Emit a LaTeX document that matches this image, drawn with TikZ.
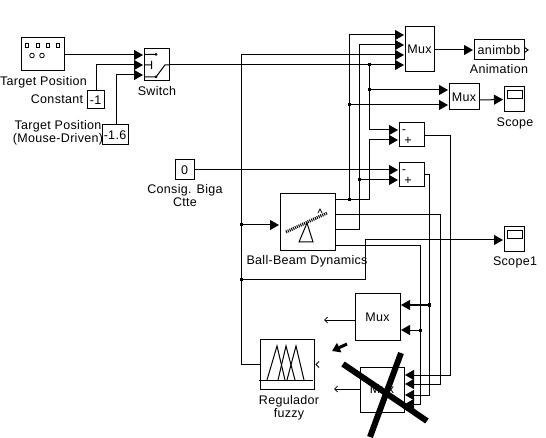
\documentclass[tikz,border=0pt]{standalone}
\usepackage{fontspec}
\setmainfont[LetterSpace=2.5]{Liberation Sans}
\usetikzlibrary{arrows.meta}
\tikzset{
	block/.style={draw,line width=1pt,inner sep=0pt,outer sep=0pt,fill=white,font=\fontsize{12.5}{13}\selectfont},
	lbl/.style={inner sep=0pt,font=\fontsize{12.5}{13}\selectfont,align=center},
	wire/.style={line width=1pt,-{Triangle[length=9pt,width=10pt]},shorten >=1pt},
	plainwire/.style={line width=1pt},
	thinout/.style={line width=0.8pt,-{Straight Barb[length=3pt,width=6pt]}},
	dot/.style={fill=black,inner sep=0pt,minimum size=3pt,rectangle},
	cross/.style={line width=6pt,color=black}
}
\begin{document}
\begin{tikzpicture}[x=1pt,y=-1pt]
	\useasboundingbox (0,0) rectangle (546,438);
	% source blocks
	\node [block,minimum width=43pt,minimum height=33pt] (target) at (42.5,54.5) {};
	\node [block,minimum width=17pt,minimum height=18pt] (const) at (95.5,100) {-1};
	\node [block,minimum width=26pt,minimum height=20pt] (mouse) at (115,135) {-1.6};
	\node [block,minimum width=19pt,minimum height=20pt] (biga) at (184.5,170) {0};
	\node [block,minimum width=25pt,minimum height=32pt] (switch) at (156.5,65) {};
	% mux and scopes
	\node [block,minimum width=29pt,minimum height=45pt] (muxa) at (419.5,49.5) {Mux};
	\node [block,minimum width=50pt,minimum height=20pt] (anim) at (499,50) {animbb};
	\node [block,minimum width=30pt,minimum height=26pt] (muxb) at (464,97) {Mux};
	\node [block,minimum width=20pt,minimum height=25pt] (scope) at (514,99.5) {};
	\node [block,minimum width=20pt,minimum height=25pt] (scopeb) at (514,239.5) {};
	\node [block,minimum width=25pt,minimum height=24pt] (suma) at (411.5,135) {};
	\node [block,minimum width=25pt,minimum height=24pt] (sumb) at (411.5,175) {};
	\node [block,minimum width=55pt,minimum height=57pt] (beam) at (307.5,222.5) {};
	\node [block,minimum width=45pt,minimum height=46pt] (muxc) at (377.5,317) {Mux};
	\node [block,minimum width=54pt,minimum height=50pt] (fuzzy) at (287,364) {};
	\node [block,minimum width=44pt,minimum height=45pt] (muxd) at (382,389.5) {Mux};
	% ports and bends
	\foreach \i/\y in {1/55,2/65,3/75}{
		\coordinate (sw\i) at (144,\y);
	}
	\foreach \i/\y in {1/35,2/45,3/55,4/65}{
		\coordinate (ma\i) at (405,\y);
	}
	\foreach \i/\y in {1/90,2/105}{
		\coordinate (mb\i) at (449,\y);
	}
	\foreach \i/\y in {1/130,2/140}{
		\coordinate (sa\i) at (399,\y);
	}
	\foreach \i/\y in {1/170,2/180}{
		\coordinate (sb\i) at (399,\y);
	}
	\foreach \i/\y in {1/200,2/215,3/230,4/246}{
		\coordinate (out\i) at (335,\y);
	}
	\foreach \i/\y in {1/375,2/384,3/395,4/404}{
		\coordinate (md\i) at (404,\y);
	}
	\foreach \i/\y in {1/305,2/330}{
		\coordinate (mc\i) at (400,\y);
	}
	\coordinate (swout) at (169,65);
	\coordinate (j1) at (369,65);
	\coordinate (j2) at (369,90);
	\coordinate (j3) at (349,105);
	\coordinate (j4) at (359,180);
	\coordinate (j5) at (349,200);
	\coordinate (j6) at (241,225);
	\coordinate (j7) at (241,280);
	\coordinate (j8) at (429,305);
	\coordinate (j9) at (420,330);
	\coordinate (fuzzyin) at (260,364);
	\coordinate (sumaout) at (424,136);
	\coordinate (sumbout) at (424,175);
	\coordinate (muxcout) at (324,320);
	\coordinate (muxdout) at (334,389);
	% wires from sources
	\draw [wire] (target.east |- sw1) -- (sw1);
	\draw [wire] (const.north -| 96,91) |- (sw2);
	\draw [wire] (mouse.north -| 116,125) |- (sw3);
	\draw [wire] (biga.east) -- (sb1);
	\draw [wire] (swout) -- (ma4);
	\draw [wire] (fuzzyin) -| (241,55) -- (ma3);
	% wires from the beam
	\draw [wire] (j6) -- (beam.west |- j6);
	\draw [wire] (out1) -| (369,140) -- (sa2);
	\draw [wire] (j5) -- (349,35) -- (ma1);
	\draw [wire] (out3) -| (359,45) -- (ma2);
	\draw [wire] (j1) |- (sa1);
	\draw [wire] (j2) -- (mb1);
	\draw [wire] (j3) -- (mb2);
	\draw [wire] (j4) -- (sb2);
	\draw [wire] (muxa.east |- 0,50) -- (anim.west);
	\draw [wire] (muxb.east |- 0,100) -- (scope.west);
	\draw [wire] (j7) -| (365,240) -- (scopeb.west |- 0,240);
	% feedback into the lower blocks
	\draw [wire] (sumaout) -| (450,375) -- (md1);
	\draw [wire] (out2) -| (440,384) -- (md2);
	\draw [wire] (sumbout) -| (429,395) -- (md3);
	\draw [wire] (out4) -| (420,404) -- (md4);
	\draw [wire] (j8) -- (mc1);
	\draw [wire] (j9) -- (mc2);
	\draw [thinout] (muxc.west |- muxcout) -- (muxcout);
	\draw [thinout] (muxd.west |- muxdout) -- (muxdout);
	\foreach \j in {j1,j2,j3,j4,j5,j6,j7,j8,j9}{
		\node [dot] at (\j) {};
	}
	% icons
	\foreach \x in {25,36,46,56}{
		\draw [line width=0.8pt] (\x,43) rectangle (\x+3.5,47);
	}
	\draw [line width=0.8pt] (32,55.5) circle (2.3) (42,55.5) circle (2.3);
	\draw [plainwire] (144,54.3) -- (156,54.3) (144,65) -- (151.5,65) (151.5,61) -- (151.5,69)
		(144,77) -- (156,77) -- (165,65) -- (169,65);
	\fill (156,54.3) circle (1.5) (156,77) circle (1.5);
	\draw [line width=3pt,dash pattern=on 1pt off 1pt] (286,232) -- (327,213);
	\draw [plainwire] (307,223) -- (299,242) -- (313,242) -- cycle;
	\draw [line width=0.8pt] (318,213) -- (320,209) -- (322,213);
	\draw [plainwire] (507,91) rectangle (522,99);
	\draw [plainwire] (507,231) rectangle (522,239);
	\draw [plainwire] (524.5,47.5) -- (528,50) -- (524.5,52.5);
	\draw [plainwire] (259,380) -- (313,380);
	\foreach \a/\b/\c in {267/277/285,278/286/295,287/296/304}{
		\draw [plainwire] (\a,380) -- (\b,346) -- (\c,380);
	}
	\draw [plainwire] (319,361.5) -- (316,364.5) -- (319,367.5);
	\draw [-{Triangle[length=8pt,width=10pt]},line width=3pt] (347,344) -- (332,351);
	% labels
	\node [lbl] (ltarget) at (43.5,82) {Target Position};
	\node [lbl] (lconst) at (57,99) {Constant};
	\node [lbl] (lmouse) at (58,133) {Target Position\\(Mouse-Driven)};
	\node [lbl] (lswitch) at (157,91) {Switch};
	\node [lbl] (lanim) at (499,69) {Animation};
	\node [lbl] (lscope) at (515,123) {Scope};
	\node [lbl] (lscopeb) at (515,262) {Scope1};
	\node [lbl] (lbiga) at (185,195.5) {Consig. Biga\\Ctte};
	\node [lbl] (lbeam) at (307,261) {Ball-Beam Dynamics};
	\node [lbl] (lfuzzy) at (289,407.5) {Regulador\\fuzzy};
	\node [lbl] (minusa) at (404,131.5) {-};
	\node [lbl] (plusa) at (408,141) {+};
	\node [lbl] (minusb) at (404,171.5) {-};
	\node [lbl] (plusb) at (408,181) {+};
	% big cross on top
	\draw [cross] (343,364) -- (427,421);
	\draw [cross] (401,353) -- (370,437);
\end{tikzpicture}
\end{document}
